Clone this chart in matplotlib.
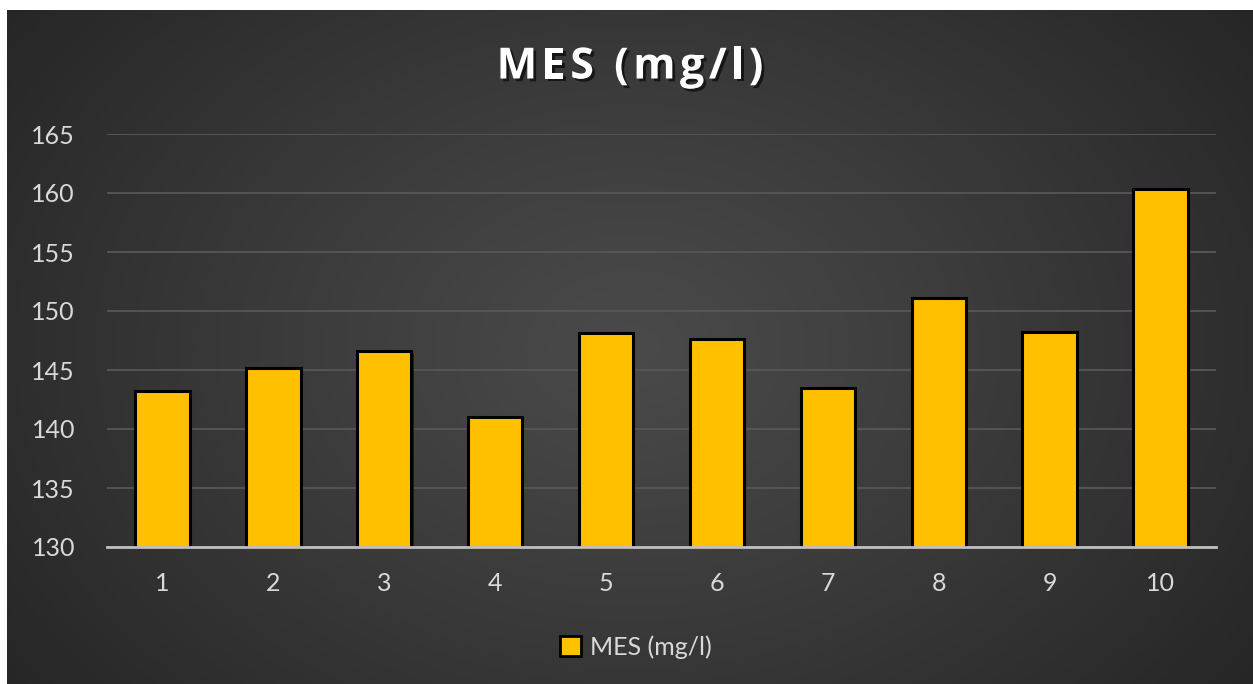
import numpy as np
import matplotlib
matplotlib.use("Agg")
import matplotlib.pyplot as plt
import matplotlib.patheffects as pe
from matplotlib.patches import Patch

# Data
categories = ["1", "2", "3", "4", "5", "6", "7", "8", "9", "10"]
mes_values = [143.2, 145.2, 146.6, 141.0, 148.1, 147.6, 143.5, 151.1, 148.2, 160.3]
series_name = "MES (mg/l)"
y_ticks = [130, 135, 140, 145, 150, 155, 160, 165]

W, H = 1253, 684
fig = plt.figure(figsize=(W / 100, H / 100), dpi=100, facecolor="white")

# Dark radial-gradient chart background
bg = fig.add_axes([7 / W, 0, 1 - 7 / W, 674 / H], zorder=0)
bw, bh = 1246, 674
yy, xx = np.mgrid[0:bh, 0:bw]
cx, cy = bw * 0.50, bh * 0.50
r = np.sqrt(((xx - cx) / (bw * 0.62)) ** 2 + ((yy - cy) / (bh * 0.85)) ** 2)
r = np.clip(r, 0, 1)
inner, outer = 0x4a / 255, 0x26 / 255
shade = inner + (outer - inner) * r ** 1.1
img = np.dstack([shade, shade, shade])
bg.imshow(img, aspect="auto", extent=[0, 1, 0, 1], interpolation="bilinear")
bg.set_axis_off()

# Main plot area
ax = fig.add_axes([107 / W, 1 - 547 / H, (1216 - 107) / W, (547 - 134) / H], zorder=1)
ax.patch.set_alpha(0)

x = np.arange(len(categories))
ax.bar(x, mes_values, width=0.49, color="#FFC000", edgecolor="black",
       linewidth=2.2, zorder=3,
       path_effects=[pe.SimplePatchShadow(offset=(1.5, -1.5), shadow_rgbFace="black", alpha=0.5), pe.Normal()])

ax.set_xlim(-0.5, len(categories) - 0.5)
ax.set_ylim(130, 165)
ax.set_yticks(y_ticks)
ax.set_xticks(x)
ax.set_xticklabels(categories)

font = "Lato"
tick_color = "#d9d9d9"
for lbl in ax.get_yticklabels() + ax.get_xticklabels():
    lbl.set_fontfamily(font)
    lbl.set_fontsize(18)
    lbl.set_color(tick_color)

ax.tick_params(axis="y", length=0, pad=23)
ax.tick_params(axis="x", length=0, pad=18)

ax.grid(axis="y", color="#575757", linewidth=1.3, zorder=0)
for side in ["top", "right", "left"]:
    ax.spines[side].set_visible(False)
ax.spines["bottom"].set_color("#bfbfbf")
ax.spines["bottom"].set_linewidth(2)
ax.spines["bottom"].set_zorder(4)

# Title, drawn letter by letter for wide tracking
title_fs = 31
title_kw = dict(fontsize=title_fs, fontweight="bold", color="white", fontfamily="Open Sans",
                va="center", ha="left",
                path_effects=[pe.withSimplePatchShadow(offset=(2, -2), shadow_rgbFace="black", alpha=0.6)])
renderer = fig.canvas.get_renderer()
tracking = 4.5  # extra pixels between letters
widths = []
for ch in series_name:
    t = fig.text(0, 0, ch if ch != " " else "\u00a0", **title_kw)
    widths.append(t.get_window_extent(renderer).width)
    t.remove()
total = sum(widths) + tracking * (len(series_name) - 1)
cursor = 630 - total / 2
ty = 1 - 67 / H
for ch, w in zip(series_name, widths):
    if ch != " ":
        fig.text(cursor / W, ty, ch, **title_kw)
    cursor += w + tracking

# Legend
handle = Patch(facecolor="#FFC000", edgecolor="black", linewidth=2)
leg = fig.legend([handle], [series_name], loc="center",
                 bbox_to_anchor=(636 / W, 1 - 647 / H), frameon=False,
                 handlelength=0.85, handleheight=0.85, handletextpad=0.35,
                 prop={"family": font, "size": 18})
for t in leg.get_texts():
    t.set_color(tick_color)

fig.savefig("out.png", dpi=100, facecolor="white")
